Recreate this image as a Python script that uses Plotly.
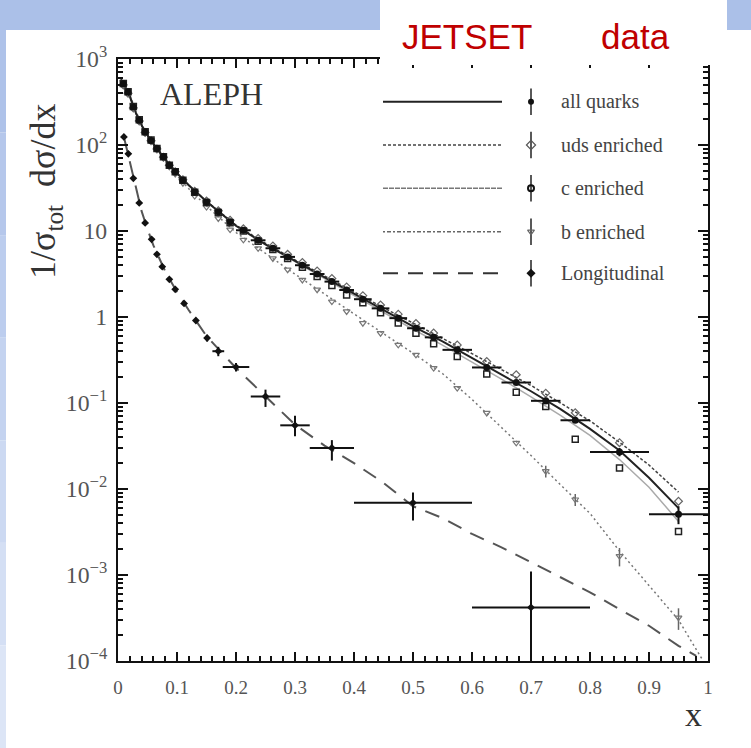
import plotly.graph_objects as go

# ---------------- data ----------------
x_bins = [0.009, 0.017, 0.026, 0.036, 0.046, 0.056, 0.066, 0.077, 0.087, 0.097, 0.11, 0.13, 0.15, 0.17,
          0.19, 0.2125, 0.2375, 0.2625, 0.2875, 0.3125, 0.3375, 0.3625, 0.3875, 0.415, 0.445, 0.475,
          0.505, 0.535, 0.575, 0.625, 0.675, 0.725, 0.775, 0.85, 0.95]
x_halfwidth = [0, 0, 0, 0, 0, 0, 0, 0, 0, 0, 0, 0, 0, 0,
               0, 0.0125, 0.0125, 0.0125, 0.0125, 0.0125, 0.0125, 0.0125, 0.0125, 0.015, 0.015, 0.015,
               0.015, 0.015, 0.025, 0.025, 0.025, 0.025, 0.025, 0.05, 0.05]
all_data = [515, 412, 276, 194, 142, 113, 91, 73, 58, 49, 39, 28.5, 21.8, 16.7, 12.8, 10.2, 7.8, 6.3,
            5.0, 4.0, 3.16, 2.58, 2.06, 1.61, 1.26, 0.97, 0.74, 0.58, 0.415, 0.259, 0.173, 0.106,
            0.063, 0.027, 0.0051]
all_err = [5, 4, 3, 2, 1.5, 1.2, 1, 0.8, 0.6, 0.5, 0.4, 0.3, 0.25, 0.2, 0.15, 0.12, 0.1, 0.08,
           0.07, 0.06, 0.05, 0.04, 0.035, 0.03, 0.025, 0.02, 0.016, 0.013, 0.01, 0.007, 0.006, 0.005,
           0.004, 0.003, 0.0012]
uds_data = [500, 400, 270, 190, 140, 112, 90, 72, 58, 49, 39.5, 29, 22.3, 17.2, 13.3, 10.6, 8.2, 6.7,
            5.35, 4.3, 3.42, 2.8, 2.24, 1.77, 1.38, 1.08, 0.84, 0.65, 0.473, 0.304, 0.213, 0.130,
            0.077, 0.0346, 0.0072]
c_data = [520, 415, 280, 196, 143, 114, 91, 73, 58, 49, 39, 28.3, 21.5, 16.4, 12.5, 10.0, 7.6, 6.1,
          4.8, 3.8, 2.95, 2.33, 1.80, 1.46, 1.12, 0.85, 0.649, 0.488, 0.347, 0.217, 0.133, 0.091,
          0.038, 0.0176, 0.0032]
b_data = [540, 430, 290, 200, 145, 114, 90, 71, 56, 46, 36, 25.5, 19, 14, 10.4, 7.9, 6.28, 4.8,
          3.55, 2.7, 2.08, 1.51, 1.16, 0.847, 0.649, 0.474, 0.363, 0.255, 0.149, 0.0766, 0.0344,
          0.0161, 0.00755, 0.00166, 0.00032]
b_err = [0, 0, 0, 0, 0, 0, 0, 0, 0, 0, 0, 0, 0, 0, 0, 0, 0, 0, 0, 0, 0, 0, 0, 0, 0, 0, 0, 0,
         0, 0, 0, 0.0025, 0.0012, 0.0004, 0.00009]

long_x = [0.01, 0.0175, 0.026, 0.036, 0.046, 0.057, 0.066, 0.075, 0.087, 0.097, 0.112, 0.132, 0.151,
          0.17, 0.2, 0.25, 0.30, 0.3625, 0.5, 0.7]
long_xerr = [0, 0, 0, 0, 0, 0, 0, 0, 0, 0, 0, 0, 0, 0.01, 0.0225, 0.025, 0.025, 0.0375, 0.1, 0.1]
long_y = [124, 79, 41, 21.2, 12.4, 8.0, 5.35, 3.85, 2.74, 2.1, 1.44, 0.91, 0.57, 0.40, 0.262, 0.119,
          0.055, 0.030, 0.0069, 0.00042]
long_err_up = [3, 2, 1.2, 0.7, 0.4, 0.3, 0.2, 0.15, 0.12, 0.1, 0.08, 0.06, 0.05, 0.05, 0.03, 0.024,
               0.016, 0.007, 0.0022, 0.00068]
long_err_dn = [3, 2, 1.2, 0.7, 0.4, 0.3, 0.2, 0.15, 0.12, 0.1, 0.08, 0.06, 0.05, 0.05, 0.03, 0.029,
               0.014, 0.0086, 0.0026, 0.00039]

# JETSET predictions
mc_x = [0.005, 0.01, 0.02, 0.03, 0.04, 0.05, 0.06, 0.08, 0.1, 0.12, 0.15, 0.2, 0.25, 0.3, 0.35, 0.4,
        0.45, 0.5, 0.55, 0.6, 0.65, 0.7, 0.75, 0.8, 0.85, 0.9, 0.95]
mc_all = [580, 500, 370, 240, 170, 130, 103, 68, 47, 34, 22, 11.5, 7.0, 4.5, 2.9, 1.85, 1.2, 0.78,
          0.52, 0.335, 0.215, 0.137, 0.085, 0.05, 0.028, 0.0135, 0.006]
mc_uds = [560, 485, 360, 235, 168, 129, 102, 68, 47, 34, 22.2, 11.7, 7.2, 4.6, 3.0, 1.95, 1.28, 0.85,
          0.57, 0.375, 0.245, 0.16, 0.1, 0.062, 0.035, 0.019, 0.0092]
mc_c = [580, 500, 370, 240, 170, 130, 103, 68, 47, 34, 22, 11.4, 6.9, 4.4, 2.8, 1.77, 1.12, 0.72,
        0.47, 0.30, 0.19, 0.118, 0.072, 0.042, 0.022, 0.0105, 0.0042]
mc_b_x = mc_x + [0.99]
mc_b = [600, 520, 385, 250, 175, 132, 103, 66, 44, 31, 19.5, 9.6, 5.5, 3.15, 1.85, 1.08, 0.64, 0.38,
        0.22, 0.11, 0.052, 0.0245, 0.0112, 0.0052, 0.0019, 0.00075, 0.0003, 0.000105]
mc_long_x = [0.01, 0.02, 0.03, 0.04, 0.05, 0.06, 0.08, 0.1, 0.12, 0.15, 0.2, 0.25, 0.3, 0.35, 0.4,
             0.45, 0.5, 0.55, 0.6, 0.65, 0.7, 0.75, 0.8, 0.85, 0.9, 0.95, 0.98]
mc_long = [124, 64, 31, 17, 10.5, 6.8, 3.4, 1.95, 1.2, 0.6, 0.255, 0.118, 0.056, 0.032, 0.020, 0.0118,
           0.0063, 0.0046, 0.0030, 0.0021, 0.00141, 0.00094, 0.00063, 0.0004, 0.000257, 0.00015, 0.000115]

legend_labels = ["all quarks", "uds enriched", "c enriched", "b enriched", "Longitudinal"]

# ---------------- figure ----------------
W, H = 751, 748
L, R, T, B = 118, 43, 59, 87
PW, PH = W - L - R, H - T - B


def px(xp):
    return (xp - L) / PW


def py(yp):
    return (H - B - yp) / PH


SERIF = "Liberation Serif, Times New Roman, serif"
fig = go.Figure()

# MC lines
fig.add_trace(go.Scatter(x=mc_long_x, y=mc_long, mode="lines",
                         line=dict(color="#555", width=2, dash="15px,10px"), showlegend=False))
fig.add_trace(go.Scatter(x=mc_b_x, y=mc_b, mode="lines",
                         line=dict(color="#777", width=1.5, dash="2px,3px"), showlegend=False))
fig.add_trace(go.Scatter(x=mc_x, y=mc_c, mode="lines",
                         line=dict(color="#aaa", width=1.5), showlegend=False))
fig.add_trace(go.Scatter(x=mc_x, y=mc_uds, mode="lines",
                         line=dict(color="#444", width=1.5, dash="3px,2px"), showlegend=False))
fig.add_trace(go.Scatter(x=mc_x, y=mc_all, mode="lines",
                         line=dict(color="#222", width=2), showlegend=False))

# data
fig.add_trace(go.Scatter(x=x_bins, y=b_data, mode="markers",
                         error_y=dict(type="data", array=b_err, color="#666", thickness=1.5, width=0),
                         marker=dict(symbol="triangle-down-open", size=6, color="#777",
                                     line=dict(width=1.2)), showlegend=False))
fig.add_trace(go.Scatter(x=x_bins, y=uds_data, mode="markers",
                         marker=dict(symbol="diamond-open", size=6, color="#666",
                                     line=dict(width=1.2)), showlegend=False))
fig.add_trace(go.Scatter(x=x_bins, y=c_data, mode="markers",
                         marker=dict(symbol="square-open", size=6, color="#222",
                                     line=dict(width=1.5)), showlegend=False))
fig.add_trace(go.Scatter(x=x_bins, y=all_data, mode="markers",
                         error_x=dict(type="data", array=x_halfwidth, color="#111", thickness=2, width=0),
                         error_y=dict(type="data", array=all_err, color="#111", thickness=2, width=0),
                         marker=dict(symbol="circle", size=7, color="#111"), showlegend=False))
fig.add_trace(go.Scatter(x=long_x, y=long_y, mode="markers",
                         error_x=dict(type="data", array=long_xerr, color="#111", thickness=2, width=0),
                         error_y=dict(type="data", array=long_err_up, arrayminus=long_err_dn,
                                      color="#111", thickness=2, width=0),
                         marker=dict(symbol="diamond", size=6, color="#111"), showlegend=False))

# ---------- legend (drawn by hand on an overlay axis) ----------
rows = [101.7, 145, 188.3, 231.7, 273.3]
leg_styles = [
    dict(color="#222", width=2, dash="solid"),
    dict(color="#444", width=1.5, dash="3px,2px"),
    dict(color="#777", width=1.5, dash="5px,1px"),
    dict(color="#666", width=1.5, dash="2px,2px,4px,2px"),
    dict(color="#333", width=2, dash="15px,10px"),
]
leg_marker = [
    dict(symbol="circle", size=6, color="#111"),
    dict(symbol="diamond-open", size=7, color="#555", line=dict(width=1.2)),
    dict(symbol="circle-open", size=6, color="#111", line=dict(width=2)),
    dict(symbol="triangle-down-open", size=6, color="#666", line=dict(width=1.2)),
    dict(symbol="diamond", size=7, color="#111"),
]
for i, (r, st, mk, lab) in enumerate(zip(rows, leg_styles, leg_marker, legend_labels)):
    fig.add_shape(type="line", xref="paper", yref="paper", x0=px(383), x1=px(502), y0=py(r), y1=py(r),
                  line=st)
    fig.add_trace(go.Scatter(x=[px(531)], y=[py(r)], xaxis="x2", yaxis="y2", mode="markers",
                             marker=mk, showlegend=False,
                             error_y=dict(type="constant", value=0.022, color="#222", thickness=1.5,
                                          width=0)))
    fig.add_annotation(x=px(559), y=py(r), xref="paper", yref="paper", text=lab, showarrow=False,
                       xanchor="left", yanchor="middle",
                       font=dict(family=SERIF, size=20, color="#444"))

# ---------- background decoration ----------
band = "#abc0e8"
fig.add_shape(type="rect", xref="paper", yref="paper", x0=px(0), x1=px(W), y0=py(30), y1=py(0),
              fillcolor=band, line=dict(width=0), layer="below")
strip_cols = ["#aec2e9", "#b5c7eb", "#bccdee", "#c4d3f0", "#ccd9f2", "#d4dff4", "#dce5f6"]
n = len(strip_cols)
for k, col in enumerate(strip_cols):
    y_top = 30 + k * (H - 30) / n
    y_bot = 30 + (k + 1) * (H - 30) / n
    fig.add_shape(type="rect", xref="paper", yref="paper", x0=px(0), x1=px(6), y0=py(y_bot), y1=py(y_top),
                  fillcolor=col, line=dict(width=0), layer="below")

# white box with JETSET / data title
fig.add_shape(type="rect", xref="paper", yref="paper", x0=px(380), x1=px(727), y0=py(65), y1=py(0),
              fillcolor="white", line=dict(width=0), layer="above")
fig.add_annotation(x=px(467), y=py(36), xref="paper", yref="paper", text="JETSET", showarrow=False,
                   xanchor="center", yanchor="middle",
                   font=dict(family="Liberation Sans, Arial, sans-serif", size=35, color="#c00000"))
fig.add_annotation(x=px(635), y=py(36), xref="paper", yref="paper", text="data", showarrow=False,
                   xanchor="center", yanchor="middle",
                   font=dict(family="Liberation Sans, Arial, sans-serif", size=35, color="#c00000"))

# texts
fig.add_annotation(x=px(158), y=py(94), xref="paper", yref="paper", text="ALEPH", showarrow=False,
                   xanchor="left", yanchor="middle", font=dict(family=SERIF, size=32, color="#333"))
fig.add_annotation(x=px(46), y=py(192), xref="paper", yref="paper",
                   text="1/σ<sub>tot</sub>  dσ/dx", showarrow=False, textangle=-90,
                   xanchor="center", yanchor="middle",
                   font=dict(family=SERIF, size=36, color="#333"))
fig.add_annotation(x=px(693), y=py(714), xref="paper", yref="paper", text="x", showarrow=False,
                   xanchor="center", yanchor="middle",
                   font=dict(family=SERIF, size=34, color="#333"))

axis_common = dict(showgrid=False, zeroline=False, showline=True, linecolor="#111", linewidth=2,
                   mirror="allticks", ticks="inside", tickcolor="#111", tickwidth=1.5,
                   tickfont=dict(family=SERIF, size=19, color="#555"))

fig.update_layout(
    width=W, height=H, margin=dict(l=L, r=R, t=T, b=B),
    paper_bgcolor="white", plot_bgcolor="white", showlegend=False,
    xaxis=dict(range=[0, 1], tickmode="linear", tick0=0, dtick=0.1, ticklen=9,
               ticklabelstandoff=8,
               minor=dict(ticks="inside", ticklen=5, dtick=0.02, tick0=0, tickcolor="#111", tickwidth=1.5,
                          showgrid=False),
               **axis_common),
    yaxis=dict(type="log", range=[-4, 3], tickmode="linear", tick0=0, dtick=1, exponentformat="power",
               ticklen=10, ticklabelstandoff=5,
               minor=dict(ticks="inside", ticklen=5, dtick="D1", tickcolor="#111", tickwidth=1.5,
                          showgrid=False),
               **axis_common),
    xaxis2=dict(range=[0, 1], overlaying="x", visible=False),
    yaxis2=dict(range=[0, 1], overlaying="y", visible=False),
)

fig.write_html("out.html")
